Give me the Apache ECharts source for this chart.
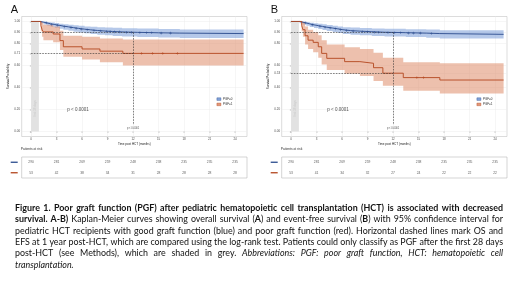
<!DOCTYPE html>
<html><head><meta charset="utf-8">
<script src="https://cdn.jsdelivr.net/npm/echarts@6/dist/echarts.min.js"></script>
<style>html,body{margin:0;padding:0;background:#fff}#c{width:520px;height:297px}</style>
</head><body><div id="c"></div>
<script>
// ---------------- DATA ----------------
const xTicks = [0, 3, 6, 9, 12, 15, 18, 21, 24];
const riskTimes = [0, 3, 6, 9, 12, 15, 18, 21, 24];
const groupNames = ['PGF=0', 'PGF=1'];

// Panel A: overall survival
const osGoodTime  = [0, 1.1, 1.5, 1.9, 2.3, 2.8, 3.3, 3.8, 4.4, 5.0, 5.6, 6.3, 7.0, 7.8, 8.7, 9.6, 10.7, 12.5, 15.0, 17.5, 25.0];
const osGoodSurv  = [1.0, 0.993, 0.986, 0.979, 0.972, 0.965, 0.958, 0.951, 0.944, 0.937, 0.930, 0.924, 0.918, 0.913, 0.909, 0.905, 0.901, 0.897, 0.894, 0.890, 0.890];
const osGoodLower = [1.0, 0.983, 0.972, 0.962, 0.952, 0.943, 0.934, 0.925, 0.916, 0.907, 0.899, 0.892, 0.885, 0.879, 0.874, 0.869, 0.864, 0.859, 0.855, 0.850, 0.850];
const osGoodUpper = [1.0, 1.0, 0.999, 0.995, 0.990, 0.985, 0.980, 0.975, 0.970, 0.965, 0.960, 0.955, 0.951, 0.948, 0.945, 0.942, 0.938, 0.935, 0.932, 0.928, 0.928];
const osGoodCensor = [1.8, 2.4, 3.1, 3.9, 4.7, 5.3, 5.9, 6.6, 7.4, 8.2, 8.9, 9.3, 9.8, 10.4, 11.2, 11.8, 12.8, 13.6, 14.2, 15.3, 16.4];
const osPoorTime  = [0, 1.15, 1.3, 1.45, 2.6, 3.4, 3.8, 6.0, 8.1, 10.8, 25.0];
const osPoorSurv  = [1.0, 0.962, 0.925, 0.905, 0.886, 0.826, 0.770, 0.750, 0.730, 0.710, 0.710];
const osPoorLower = [1.0, 0.910, 0.860, 0.830, 0.810, 0.740, 0.680, 0.655, 0.630, 0.600, 0.600];
const osPoorUpper = [1.0, 1.0, 0.990, 0.970, 0.955, 0.915, 0.870, 0.860, 0.845, 0.835, 0.835];
const osPoorCensor = [13.0, 14.3, 15.5, 17.2];
const osRiskGood = [290, 281, 269, 259, 248, 238, 235, 235, 235];
const osRiskPoor = [53, 42, 38, 34, 31, 28, 28, 28, 28];
const osYTicks = [0, 0.2, 0.4, 0.6, 0.71, 0.8, 0.9, 1.0];
const osAt1Year = [0.90, 0.71];

// Panel B: event-free survival
const efsGoodTime  = [0, 1.0, 1.4, 1.8, 2.2, 2.7, 3.2, 3.7, 4.2, 4.9, 5.5, 6.1, 7.0, 8.1, 9.5, 11.0, 13.5, 15.9, 17.5, 25.0];
const efsGoodSurv  = [1.0, 0.993, 0.986, 0.978, 0.969, 0.962, 0.955, 0.948, 0.940, 0.933, 0.925, 0.917, 0.912, 0.907, 0.902, 0.898, 0.894, 0.890, 0.883, 0.883];
const efsGoodLower = [1.0, 0.983, 0.972, 0.961, 0.949, 0.940, 0.931, 0.922, 0.913, 0.904, 0.895, 0.886, 0.880, 0.874, 0.868, 0.863, 0.858, 0.853, 0.845, 0.845];
const efsGoodUpper = [1.0, 1.0, 0.999, 0.995, 0.989, 0.984, 0.979, 0.974, 0.967, 0.962, 0.955, 0.948, 0.944, 0.940, 0.936, 0.933, 0.930, 0.927, 0.921, 0.921];
const efsGoodCensor = [1.7, 2.5, 3.4, 4.0, 4.6, 5.2, 5.8, 6.5, 7.3, 8.4, 9.0, 9.8, 10.3, 11.4, 12.2, 12.9, 13.8, 14.4, 15.2, 16.5];
const efsPoorTime  = [0, 1.25, 1.4, 1.65, 2.0, 2.6, 3.2, 3.6, 4.2, 6.3, 8.1, 9.7, 10.8, 13.2, 17.5, 25.0];
const efsPoorSurv  = [1.0, 0.962, 0.925, 0.870, 0.830, 0.810, 0.770, 0.710, 0.665, 0.635, 0.620, 0.580, 0.530, 0.490, 0.468, 0.468];
const efsPoorLower = [1.0, 0.910, 0.860, 0.790, 0.750, 0.720, 0.670, 0.610, 0.560, 0.525, 0.505, 0.460, 0.415, 0.370, 0.345, 0.345];
const efsPoorUpper = [1.0, 1.0, 0.995, 0.955, 0.925, 0.905, 0.875, 0.830, 0.790, 0.765, 0.750, 0.715, 0.670, 0.630, 0.620, 0.620];
const efsPoorCensor = [14.8, 15.6];
const efsRiskGood = [290, 281, 269, 259, 248, 238, 235, 235, 235];
const efsRiskPoor = [53, 41, 34, 32, 27, 24, 22, 22, 22];
const efsYTicks = [0, 0.2, 0.4, 0.53, 0.6, 0.8, 0.9, 1.0];
const efsAt1Year = [0.90, 0.53];

const landmarkMonth = 12;
const pgfWindowMonths = 0.92;
const pValueText = 'p < 0.0001';
const windowText = 'first 28 days';

const captionLines = [
  [['Figure 1. Poor graft function (PGF) after pediatric hematopoietic cell transplantation (HCT) is associated with decreased', 'b']],
  [['survival. A-B)', 'b'], [' Kaplan-Meier curves showing overall survival (', 'n'], ['A', 'b'], [') and event-free survival (', 'n'], ['B', 'b'], [') with 95% confidence interval for', 'n']],
  [['pediatric HCT recipients with good graft function (blue) and poor graft function (red). Horizontal dashed lines mark OS and', 'n']],
  [['EFS at 1 year post-HCT, which are compared using the log-rank test. Patients could only classify as PGF after the first 28 days', 'n']],
  [['post-HCT (see Methods), which are shaded in grey. ', 'n'], ['Abbreviations: PGF: poor graft function, HCT: hematopoietic cell', 'i']],
  [['transplantation.', 'i']]
];

// ---------------- STYLE ----------------
const FONT = 'Liberation Sans';
const colLine = ['#2A4B8D', '#B3461E'];
const colBand = ['rgba(120,155,215,0.55)', 'rgba(222,140,105,0.55)'];
const X_MIN = -1.1, X_MAX = 25.4, Y_MIN = -0.045, Y_MAX = 1.045;

function survAt(times, surv, t) {
  let v = surv[0];
  for (let i = 0; i < times.length; i++) if (times[i] <= t) v = surv[i];
  return v;
}

const panels = [
  { label: 'A', left: 21.7, yTicks: osYTicks, at1: osAt1Year,
    groups: [
      { t: osGoodTime, s: osGoodSurv, lo: osGoodLower, hi: osGoodUpper, c: osGoodCensor, risk: osRiskGood },
      { t: osPoorTime, s: osPoorSurv, lo: osPoorLower, hi: osPoorUpper, c: osPoorCensor, risk: osRiskPoor }
    ] },
  { label: 'B', left: 281.7, yTicks: efsYTicks, at1: efsAt1Year,
    groups: [
      { t: efsGoodTime, s: efsGoodSurv, lo: efsGoodLower, hi: efsGoodUpper, c: efsGoodCensor, risk: efsRiskGood },
      { t: efsPoorTime, s: efsPoorSurv, lo: efsPoorLower, hi: efsPoorUpper, c: efsPoorCensor, risk: efsRiskPoor }
    ] }
];

const grids = [], xAxes = [], yAxes = [], series = [], legends = [], titles = [], graphics = [];
const PLOT_W = 225.3;

function bandRenderer(g, color) {
  return function (params, api) {
    if (params.dataIndex !== 0) return;
    const up = [], low = [];
    for (let i = 0; i < g.t.length; i++) {
      const next = i < g.t.length - 1 ? g.t[i + 1] : g.t[i];
      up.push(api.coord([g.t[i], g.hi[i]]));
      up.push(api.coord([next, g.hi[i]]));
      low.push(api.coord([g.t[i], g.lo[i]]));
      low.push(api.coord([next, g.lo[i]]));
    }
    return { type: 'polygon', shape: { points: up.concat(low.reverse()) }, style: { fill: color } };
  };
}

panels.forEach((p, k) => {
  const gi = grids.length;
  const ri = gi + 1;
  grids.push({ left: p.left, top: 16.5, width: PLOT_W, height: 120, show: true, borderColor: '#b8b8b8', borderWidth: 0.5, backgroundColor: '#fff' });
  grids.push({ left: p.left, top: 157, width: PLOT_W, height: 21, show: true, borderColor: '#a8a8a8', borderWidth: 0.5 });

  xAxes.push({ gridIndex: gi, type: 'value', min: X_MIN, max: X_MAX,
    axisLine: { show: false },
    axisTick: { show: true, customValues: xTicks, length: 1.2, lineStyle: { color: '#666', width: 0.4 } },
    axisLabel: { customValues: xTicks, fontSize: 3, color: '#4d4d4d', margin: 1.6, fontFamily: FONT },
    splitLine: { show: true, lineStyle: { color: '#ececec', width: 0.5 } },
    name: 'Time post HCT (months)', nameLocation: 'middle', nameGap: 6.5,
    nameTextStyle: { fontSize: 3, color: '#222', fontFamily: FONT } });
  xAxes.push({ gridIndex: ri, type: 'value', min: X_MIN, max: X_MAX, show: true,
    axisLine: { show: false }, axisTick: { show: false }, axisLabel: { show: false }, splitLine: { show: false } });

  yAxes.push({ gridIndex: gi, type: 'value', min: Y_MIN, max: Y_MAX,
    axisLine: { show: false },
    axisTick: { show: true, customValues: p.yTicks, length: 1.2, lineStyle: { color: '#666', width: 0.4 } },
    axisLabel: { customValues: p.yTicks, formatter: v => Number(v).toFixed(2), fontSize: 3, color: '#4d4d4d', margin: 1.6, fontFamily: FONT },
    splitLine: { show: true, lineStyle: { color: '#ececec', width: 0.5 } },
    name: 'Survival Probability', nameLocation: 'middle', nameGap: 12.5, nameRotate: 90,
    nameTextStyle: { fontSize: 3, color: '#222', fontFamily: FONT } });
  yAxes.push({ gridIndex: ri, type: 'category', data: ['PGF=1', 'PGF=0'],
    axisLine: { show: false }, axisTick: { show: false }, splitLine: { show: false },
    axisLabel: { interval: 0, margin: 4, formatter: v => (v === 'PGF=0' ? '{g|}' : '{p|}'),
      rich: { g: { width: 7, height: 1.3, backgroundColor: colLine[0] }, p: { width: 7, height: 1.3, backgroundColor: colLine[1] } } } });

  // grey window (first 28 days)
  series.push({ type: 'line', xAxisIndex: gi, yAxisIndex: gi, silent: true, z: 1, symbol: 'none',
    data: [[0, 1], [pgfWindowMonths, 1]], lineStyle: { opacity: 0 },
    markArea: { silent: true, itemStyle: { color: '#e2e2e2' },
      data: [[{ coord: [0, 0] }, { coord: [pgfWindowMonths, 1] }]] } });

  p.groups.forEach((g, j) => {
    series.push({ type: 'custom', xAxisIndex: gi, yAxisIndex: gi, silent: true, z: 2,
      encode: { x: 0, y: [1, 2] },
      data: g.t.map((t, i) => [t, g.lo[i], g.hi[i]]),
      renderItem: bandRenderer(g, colBand[j]) });
  });

  p.groups.forEach((g, j) => {
    const line = { type: 'line', name: groupNames[j], xAxisIndex: gi, yAxisIndex: gi,
      data: g.t.map((t, i) => [t, g.s[i]]), step: 'end', symbol: 'none', z: 4, silent: true,
      color: colLine[j], lineStyle: { color: colLine[j], width: 0.9 } };
    if (j === 0) {
      line.markLine = { silent: true, symbol: ['none', 'none'], label: { show: false },
        lineStyle: { type: [1.6, 1.2], color: '#333', width: 0.6 },
        data: [
          [{ coord: [0, p.at1[0]] }, { coord: [landmarkMonth, p.at1[0]] }],
          [{ coord: [0, p.at1[1]] }, { coord: [landmarkMonth, p.at1[1]] }],
          [{ coord: [landmarkMonth, p.at1[0]] }, { coord: [landmarkMonth, 0.06] }]
        ] };
    }
    series.push(line);
    series.push({ type: 'scatter', xAxisIndex: gi, yAxisIndex: gi, silent: true, z: 5,
      symbol: 'path://M0,4H10V6H0ZM4,0H6V10H4Z', symbolSize: 2.6,
      itemStyle: { color: colLine[j] },
      data: g.c.map(t => [t, survAt(g.t, g.s, t)]) });
    // risk table numbers
    series.push({ type: 'scatter', xAxisIndex: ri, yAxisIndex: ri, silent: true, symbolSize: 1,
      itemStyle: { color: 'rgba(0,0,0,0)' },
      label: { show: true, position: 'inside', formatter: q => String(q.value[2]), fontSize: 3.3, color: '#333', fontFamily: FONT },
      data: riskTimes.map((t, i) => [t, j === 0 ? 1 : 0, g.risk[i]]) });
  });

  // annotations
  series.push({ type: 'scatter', xAxisIndex: gi, yAxisIndex: gi, silent: true, symbolSize: 1, z: 6,
    itemStyle: { color: 'rgba(0,0,0,0)' },
    data: [
      { value: [4.2, 0.195], label: { show: true, position: 'right', distance: 0, formatter: pValueText, fontSize: 4.5, color: '#222', fontFamily: FONT } },
      { value: [landmarkMonth, 0.03], label: { show: true, position: 'inside', formatter: pValueText, fontSize: 2.6, color: '#222', fontFamily: FONT } },
      { value: [pgfWindowMonths / 2, 0.21], label: { show: true, position: 'inside', rotate: 90, formatter: windowText, fontSize: 3, color: '#c4c4c4', fontFamily: FONT } }
    ] });

  legends.push({ left: p.left + 195, top: 97.6, orient: 'vertical', padding: 0, itemGap: 2.3,
    itemWidth: 4, itemHeight: 2.6, selectedMode: false,
    textStyle: { fontSize: 3, color: '#333', fontFamily: FONT, padding: [0, 0, 0, -3] },
    data: groupNames.map((n, j) => ({ name: n, icon: 'rect',
      itemStyle: { color: colBand[j].replace('0.55', '0.9'), borderColor: colLine[j], borderWidth: 0.4 } })) });

  titles.push({ text: p.label, left: p.left - 11, top: 4, padding: 0,
    textStyle: { fontSize: 11, fontWeight: 'normal', color: '#111', fontFamily: FONT } });

  graphics.push({ type: 'text', x: p.left - 1, y: 149.3, silent: true,
    style: { text: 'Patients at risk', fontSize: 3.3, fill: '#333', fontFamily: FONT, verticalAlign: 'middle', align: 'left' } });
});

// ---------------- CAPTION (justified) ----------------
(function buildCaption() {
  const ctx = document.createElement('canvas').getContext('2d');
  const fam = 'Lato';
  const fstr = (st, sz) => (st === 'i' ? 'italic ' : 'normal ') + (st === 'b' ? 'bold ' : 'normal ') + sz + 'px ' + fam;
  const meas = (t, st, sz) => { ctx.font = fstr(st, sz); return ctx.measureText(t).width; };
  const lines = captionLines.map(segs => {
    const words = []; let cur = [];
    segs.forEach(([txt, st]) => {
      const parts = txt.split(' ');
      parts.forEach((pt, idx) => {
        if (idx > 0) { if (cur.length) words.push(cur); cur = []; }
        if (pt !== '') cur.push({ t: pt, st });
      });
    });
    if (cur.length) words.push(cur);
    return words;
  });
  const X0 = 15, W = 488, Y0 = 208, LH = 11.35;
  const natural = (words, sz) => {
    let w = 0; words.forEach(wd => wd.forEach(pc => { w += meas(pc.t, pc.st, sz); }));
    return w + meas(' ', 'n', sz) * (words.length - 1);
  };
  let size = 20;
  for (let i = 0; i < 4; i++) size = Math.min(size, 10 * W / natural(lines[i], 10));
  size = Math.floor(size * 100) / 100;
  lines.forEach((words, li) => {
    const widths = words.map(wd => wd.reduce((a, pc) => a + meas(pc.t, pc.st, size), 0));
    const sum = widths.reduce((a, b) => a + b, 0);
    const justify = li < lines.length - 1;
    const gap = justify ? (W - sum) / (words.length - 1) : meas(' ', 'n', size);
    let x = X0;
    words.forEach((wd, wi) => {
      let px = x;
      wd.forEach(pc => {
        graphics.push({ type: 'text', x: px, y: Y0 + li * LH, silent: true,
          style: { text: pc.t, fontFamily: fam, fontSize: size, fontWeight: pc.st === 'b' ? 'bold' : 'normal',
            fontStyle: pc.st === 'i' ? 'italic' : 'normal', fill: '#111', verticalAlign: 'middle', align: 'left' } });
        px += meas(pc.t, pc.st, size);
      });
      x += widths[wi] + gap;
    });
  });
})();

const chart = echarts.init(document.getElementById('c'), null, { renderer: 'canvas' });
chart.setOption({
  animation: false,
  backgroundColor: '#fff',
  title: titles,
  grid: grids,
  xAxis: xAxes,
  yAxis: yAxes,
  legend: legends,
  series: series,
  graphic: graphics
});
</script></body></html>
